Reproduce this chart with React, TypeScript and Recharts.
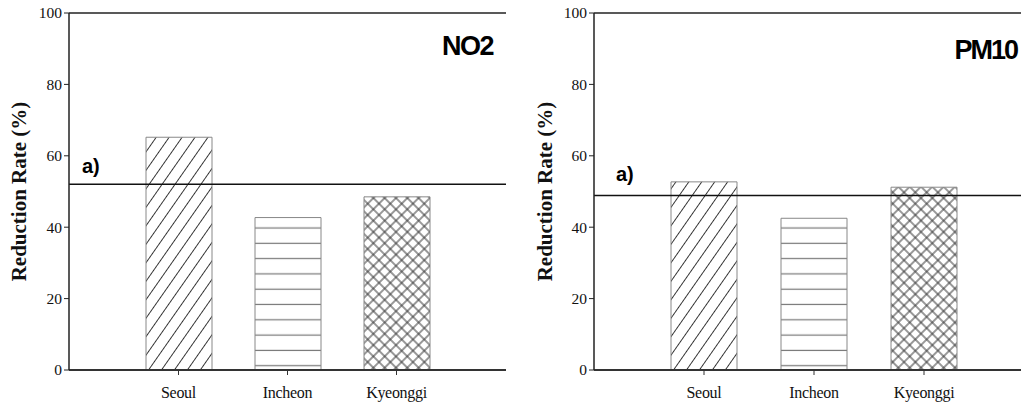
import React from 'react';
import { BarChart, Bar, XAxis, YAxis, ReferenceLine, Cell } from 'recharts';

const categories = ['Seoul', 'Incheon', 'Kyeonggi'];
const no2Values = [65.2, 42.7, 48.5];
const pm10Values = [52.7, 42.5, 51.2];
const no2Reference = 52.0;
const pm10Reference = 48.9;
const yTicks = [0, 20, 40, 60, 80, 100];
const panelNote = 'a)';
const yTitle = 'Reduction Rate (%)';

const patternIds = ['hatchDiag', 'hatchHoriz', 'hatchCross'];
const SERIF = '"Liberation Serif", "DejaVu Serif", serif';
const SANS = '"Liberation Sans", Arial, sans-serif';

type PanelProps = {
  title: string;
  values: number[];
  refValue: number;
  left: number;
  width: number;
  titleInsetX: number;
  titleDropY: number;
  titleSpacing: number;
  noteDx: number;
  noteDy: number;
  yTitleX: number;
};

const YTick = (props: any) => (
  <text
    x={props.x}
    y={props.y}
    dy="0.35em"
    textAnchor="end"
    style={{ fontFamily: SERIF, fontSize: 15.5, fill: '#111' }}
  >
    {props.payload?.value}
  </text>
);

const XTick = (props: any) => (
  <text
    x={props.x}
    y={props.y}
    dy="0.71em"
    textAnchor="middle"
    style={{ fontFamily: SERIF, fontSize: 16, fill: '#111', letterSpacing: '-0.3px' }}
  >
    {props.payload?.value}
  </text>
);

function Panel(p: PanelProps) {
  const data = categories.map((c, i) => ({ name: c, value: p.values[i] }));

  const yTitleLabel = (props: any) => {
    const vb = props.viewBox || {};
    const x = (vb.x ?? 0) + p.yTitleX;
    const y = (vb.y ?? 0) + (vb.height ?? 0) / 2;
    return (
      <text
        x={x}
        y={y}
        transform={`rotate(-90, ${x}, ${y})`}
        textAnchor="middle"
        style={{ fontFamily: SERIF, fontSize: 21, fontWeight: 'bold', fill: '#111' }}
      >
        {yTitle}
      </text>
    );
  };

  const titleLabel = (props: any) => {
    const vb = props.viewBox || {};
    return (
      <text
        x={vb.x + vb.width - p.titleInsetX}
        y={vb.y + p.titleDropY}
        textAnchor="end"
        style={{
          fontFamily: SANS,
          fontWeight: 'bold',
          fontSize: 27,
          letterSpacing: `${p.titleSpacing}px`,
          fill: '#000',
        }}
      >
        {p.title}
      </text>
    );
  };

  const noteLabel = (props: any) => {
    const vb = props.viewBox || {};
    return (
      <text
        x={vb.x + p.noteDx}
        y={vb.y - p.noteDy}
        textAnchor="start"
        style={{ fontFamily: SANS, fontWeight: 'bold', fontSize: 20, fill: '#000' }}
      >
        {panelNote}
      </text>
    );
  };

  return (
    <div style={{ position: 'absolute', left: p.left, top: 0 }}>
      <BarChart
        width={p.width}
        height={404}
        data={data}
        margin={{ top: 13, right: 14, bottom: 0, left: 0 }}
      >
        <XAxis
          dataKey="name"
          height={34}
          padding={{ left: 55, right: 55 }}
          tickSize={5}
          tickMargin={12}
          interval={0}
          axisLine={{ stroke: '#333', strokeWidth: 2 }}
          tickLine={{ stroke: '#333' }}
          tick={<XTick />}
        />
        <YAxis
          width={69}
          domain={[0, 100]}
          ticks={yTicks}
          tickSize={5}
          tickMargin={2}
          axisLine={{ stroke: '#222', strokeWidth: 1.5 }}
          tickLine={{ stroke: '#222' }}
          tick={<YTick />}
          label={yTitleLabel}
        />
        <YAxis
          yAxisId="border"
          orientation="right"
          width={0}
          domain={[0, 100]}
          tick={false}
          tickLine={false}
          axisLine={{ stroke: '#222', strokeWidth: 1.5 }}
        />
        <Bar dataKey="value" barSize={66} stroke="#888" strokeWidth={1} isAnimationActive={false}>
          {data.map((d, i) => (
            <Cell key={d.name} fill={`url(#${patternIds[i]})`} />
          ))}
        </Bar>
        <ReferenceLine y={100} stroke="#222" strokeWidth={1.5} label={titleLabel} />
        <ReferenceLine y={p.refValue} stroke="#111" strokeWidth={1.5} label={noteLabel} />
      </BarChart>
    </div>
  );
}

export default function App() {
  return (
    <div
      style={{
        position: 'absolute',
        left: 0,
        top: 0,
        width: 1021,
        height: 404,
        overflow: 'hidden',
        background: '#fff',
        fontFamily: SERIF,
      }}
    >
      <svg width={0} height={0} style={{ position: 'absolute' }}>
        <defs>
          <pattern id="hatchDiag" width={10.6} height={10.6} patternUnits="userSpaceOnUse" patternTransform="rotate(35)">
            <rect width={10.6} height={10.6} fill="#fff" />
            <line x1={5.3} y1={0} x2={5.3} y2={10.6} stroke="#333" strokeWidth={1} />
          </pattern>
          <pattern id="hatchHoriz" width={8} height={15.3} patternUnits="userSpaceOnUse">
            <rect width={8} height={15.3} fill="#fff" />
            <line x1={0} y1={13.8} x2={8} y2={13.8} stroke="#777" strokeWidth={1.2} />
          </pattern>
          <pattern id="hatchCross" width={8} height={8} patternUnits="userSpaceOnUse" patternTransform="rotate(45)">
            <rect width={8} height={8} fill="#fff" />
            <line x1={4} y1={0} x2={4} y2={8} stroke="#333" strokeWidth={1} />
            <line x1={0} y1={4} x2={8} y2={4} stroke="#333" strokeWidth={1} />
          </pattern>
        </defs>
      </svg>
      <Panel
        title="NO2"
        values={no2Values}
        refValue={no2Reference}
        left={0}
        width={520}
        titleInsetX={13}
        titleDropY={42}
        titleSpacing={-1.5}
        noteDx={13}
        noteDy={11}
        yTitleX={26}
      />
      <Panel
        title="PM10"
        values={pm10Values}
        refValue={pm10Reference}
        left={525}
        width={523}
        titleInsetX={17}
        titleDropY={46}
        titleSpacing={-2}
        noteDx={22}
        noteDy={14}
        yTitleX={27}
      />
    </div>
  );
}
